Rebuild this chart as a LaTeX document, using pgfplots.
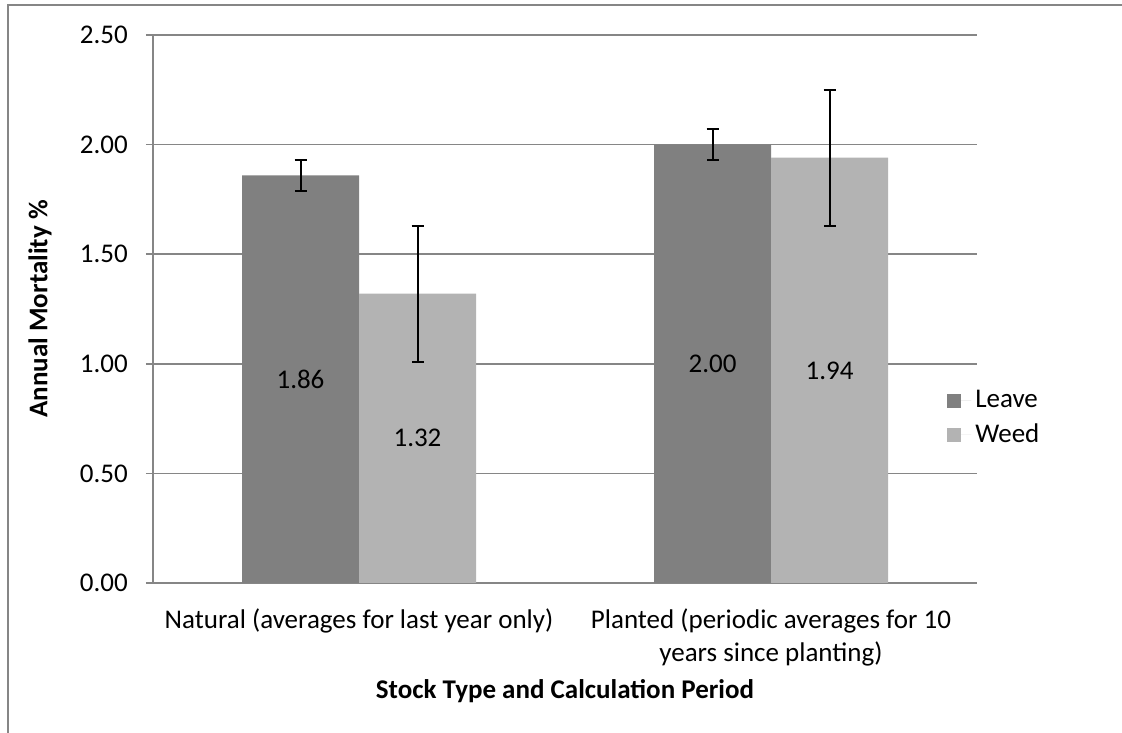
\documentclass[border=0pt]{standalone}
\usepackage{pgfplots}
\pgfplotsset{compat=1.18}
\usepackage{fontspec}
\setmainfont{Carlito}
\definecolor{leave}{RGB}{128,128,128}
\definecolor{weed}{RGB}{179,179,179}
\definecolor{gridgray}{RGB}{134,134,134}
\newcommand{\fs}{\fontsize{27}{33}\selectfont}
\begin{document}
\fs
\begin{tikzpicture}[x=1pt,y=1pt]
\useasboundingbox (0,0) rectangle (1122,733);
\draw[gridgray, line width=1.5pt] (8,0) -- (8,728) -- (1122,728);
\begin{axis}[
  at={(153pt,150pt)}, anchor=south west,
  scale only axis, width=824pt, height=548pt,
  ybar=0pt, bar width=117pt,
  xmin=-0.5, xmax=1.5, ymin=0, ymax=2.5,
  axis x line*=bottom, axis y line*=left,
  axis line style={gridgray, line width=1.5pt},
  ymajorgrids, grid style={gridgray, line width=1.5pt},
  ytick={0,0.5,1,1.5,2,2.5},
  yticklabel style={/pgf/number format/.cd, fixed, fixed zerofill, precision=2, /tikz/xshift=-9pt},
  /pgf/number format/assume math mode=true,
  tick align=outside, major tick length=7pt,
  tick style={gridgray, line width=1.5pt},
  xtick={0,1},
  xticklabels={Natural (averages for last year only),{Planted (periodic averages for 10\\years since planting)}},
  xticklabel style={align=center, font=\fs, yshift=-10pt},
  x tick style={draw=none},
  extra x ticks={-0.5,0.5,1.5},
  extra x tick labels={},
  extra x tick style={tick style={draw=gridgray, line width=1.5pt}, major tick length=7pt, grid=none},
  ticklabel style={font=\fs},
  xlabel={\bfseries Stock Type and Calculation Period},
  ylabel={\bfseries Annual Mortality \%},
  xlabel style={at={(axis description cs:0.5,-0.197)}, anchor=center},
  ylabel style={at={(axis description cs:-0.137,0.5)}, anchor=center},
  label style={font=\fs},
  legend style={draw=none, fill=none, at={(0.960,0.301)}, anchor=west,
    legend cell align=left, row sep=8pt, font=\fs,
    nodes={inner xsep=4pt}},
  legend image code/.code={\fill[#1] (0pt,-7pt) rectangle (14pt,7pt); \path (0pt,0pt) -- (24pt,0pt);},
  visualization depends on=y \as \rawy,
  nodes near coords={\pgfmathprintnumber[fixed,fixed zerofill,precision=2]{\pgfplotspointmeta}},
  every node near coord/.append style={anchor=center, black, font=\fs,
    shift={(axis direction cs:0,-\rawy/2)}},
  error bars/y dir=both, error bars/y explicit,
  error bars/error bar style={black, line width=2pt},
  error bars/error mark options={black, rotate=90, mark size=6pt, line width=2pt},
]
\addplot[fill=leave, draw=none] coordinates {(0,1.86) +- (0,0.07) (1,2.00) +- (0,0.07)};
\addplot[fill=weed, draw=none] coordinates {(0,1.32) +- (0,0.31) (1,1.94) +- (0,0.31)};
\legend{Leave,Weed}
\end{axis}
\end{tikzpicture}
\end{document}
